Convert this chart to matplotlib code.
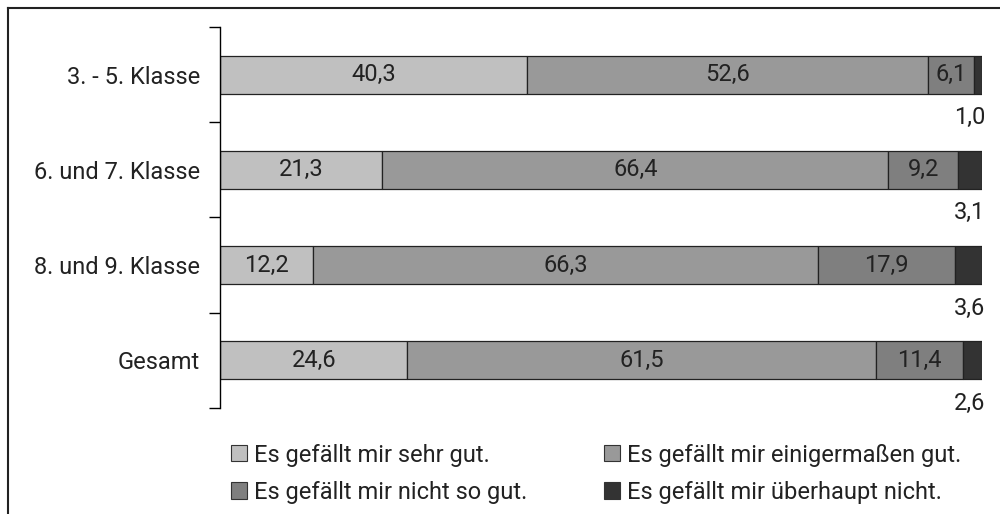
import matplotlib.pyplot as plt
from matplotlib.lines import Line2D
from matplotlib.patches import Patch

plt.rcParams['font.family'] = ['Roboto', 'DejaVu Sans']

klassen = ["3. - 5. Klasse", "6. und 7. Klasse", "8. und 9. Klasse", "Gesamt"]
sehr_gut = [40.3, 21.3, 12.2, 24.6]
einigermassen = [52.6, 66.4, 66.3, 61.5]
nicht_so_gut = [6.1, 9.2, 17.9, 11.4]
ueberhaupt_nicht = [1.0, 3.1, 3.6, 2.6]
kategorien = ["Es gefällt mir sehr gut.", "Es gefällt mir einigermaßen gut.",
              "Es gefällt mir nicht so gut.", "Es gefällt mir überhaupt nicht."]
farben = ["#c0c0c0", "#999999", "#7f7f7f", "#333333"]

serien = [sehr_gut, einigermassen, nicht_so_gut, ueberhaupt_nicht]
fs = 17
textfarbe = "#222222"

fig = plt.figure(figsize=(10, 5.14), dpi=100)
ax = fig.add_axes([0.220, 0.2062, 0.762, 0.7413])

links = [0.0] * len(klassen)
pos = list(range(len(klassen)))
for s, werte in enumerate(serien):
    ax.barh(pos, werte, left=links, height=0.4, color=farben[s],
            edgecolor="#222222", linewidth=0.9, label=kategorien[s])
    for i, w in enumerate(werte):
        txt = str(w).replace(".", ",")
        if s < 3:
            ax.text(links[i] + w / 2, i, txt, ha="center", va="center",
                    fontsize=fs, color=textfarbe)
        else:
            # kleinster Anteil: Beschriftung unter dem Balken
            ax.text(100.4, i + 0.45, txt, ha="right", va="center",
                    fontsize=fs, color=textfarbe)
        links[i] += w

ax.set_xlim(0, 100)
ax.set_ylim(3.5, -0.5)
for sp in ["top", "right", "bottom"]:
    ax.spines[sp].set_visible(False)
ax.spines["left"].set_linewidth(1.0)
ax.set_xticks([])
ax.set_yticks([-0.5, 0.5, 1.5, 2.5, 3.5])
ax.set_yticklabels([])
ax.tick_params(axis="y", which="major", length=8, width=1.0)
ax.set_yticks(pos, minor=True)
ax.set_yticklabels(klassen, minor=True, fontsize=fs, color=textfarbe)
ax.tick_params(axis="y", which="minor", length=0, pad=14.5)

# Rahmen um das Diagramm
fig.add_artist(Line2D([0.008, 0.008], [0.0, 0.984], color="#222222", linewidth=1.5))
fig.add_artist(Line2D([0.008, 1.0], [0.984, 0.984], color="#222222", linewidth=1.5))

reihenfolge = [0, 2, 1, 3]
handles = [Patch(facecolor=farben[k], edgecolor="#333333", linewidth=0.8) for k in reihenfolge]
labels = [kategorien[k] for k in reihenfolge]
leg = fig.legend(handles, labels, ncol=2, loc="upper left", bbox_to_anchor=(0.231, 0.137),
                 frameon=False, fontsize=fs, handlelength=0.68, handleheight=0.68,
                 handletextpad=0.3, columnspacing=3.25, labelspacing=0.6, borderaxespad=0,
                 borderpad=0)
for t in leg.get_texts():
    t.set_color(textfarbe)

fig.savefig("out.png", dpi=100)
